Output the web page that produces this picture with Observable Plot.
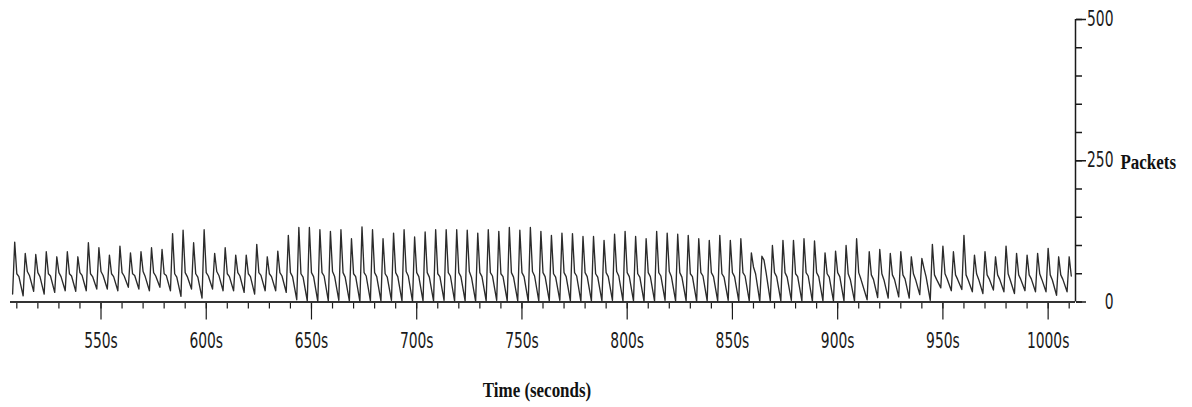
<!DOCTYPE html>
<html><head><meta charset="utf-8">
<script src="https://cdn.jsdelivr.net/npm/d3@7"></script>
<script src="https://cdn.jsdelivr.net/npm/@observablehq/plot@0.6"></script>
<style>
html,body{margin:0;padding:0;background:#fff;}
#chart svg{display:block;}
</style></head><body><div id="chart"></div>
<script>
// Packet counts, one cycle per ~5 seconds: peak, plateau, shoulder, trough
const startTime = 508;
const startValue = 14;
const firstPeakTime = 509;
const cycleSeconds = 5;
const longCycles = [80];          // cycle index that lasted 6 s
const endPlateau = 46;

const peaks = [
  106,86,84,89,80,89,80,105,96,83,
  99,87,89,96,93,121,127,105,128,86,
  96,83,83,102,80,90,
  118,132,132,128,125,128,112,133,128,112,
  122,128,115,124,128,128,128,127,122,128,
  125,132,127,132,125,118,122,121,
  116,116,109,120,125,116,112,125,122,120,
  118,112,109,118,109,112,87,81,100,109,
  109,112,108,87,90,100,112,
  89,93,86,89,80,77,102,99,89,118,
  83,89,80,99,86,83,86,95,80,80
];
const plateaus = [
  50,54,52,50,52,50,52,50,54,50, 52,50,54,52,50,50,52,50,52,54, 50,52,50,52,50,52,
  52,50,52,52,54,52,50,52,52,50, 52,54,52,52,50,52,52,54,52,52, 50,52,52,54,52,50,52,52,
  52,50,52,54,52,50,52,52,54,52, 50,52,52,50,52,52,62,74,52,52, 50,52,52,50,52,50,52,
  48,50,48,48,50,60,48,50,48,48, 50,48,48,50,48,48,50,48,48,endPlateau
];
const shoulders = [
  45,47,45,46,45,46,47,45,47,45, 46,47,45,46,47,44,45,44,46,47, 45,46,45,47,45,46,
  45,44,45,46,45,44,45,46,45,44, 45,46,45,44,45,46,45,44,45,46, 45,44,45,46,45,44,45,46,45,44,
  45,46,45,44,45,46,45,44,45,46, 45,44,45,46,50,52,45,44,45,46, 45,44,45,
  40,41,40,39,40,41,40,45,40,41, 40,39,40,41,40,39,40,41,40,39, 40
];
const troughs = [
  11,19,14,17,20,19,20,23,23,20, 26,23,20,26,20,10,23,7,23,20, 20,17,14,20,20,17,
  4,
  2,1,2,3,2,1,2,2,3,2, 1,2,2,3,2,2,1,2,3,2, 2,1,2,2,3,2,1,2,2,3, 2,2,1,2,3,2,2,1,2,2, 3,2,2,1,2,2,3,2,1,2, 2,2,
  2,4,8,7,9,7,13,3,25,20, 22,18,15,21,18,15,20,18,18,12, 18
];

const xMinorTicks = d3.range(510, 1011, 10);
const xMajorTicks = [550,600,650,700,750,800,850,900,950,1000];
const yMinorTicks = d3.range(0, 501, 50);
const yMajorTicks = [0,250,500];

const series = [{t: startTime, v: startValue}];
let t = firstPeakTime;
for (let i = 0; i < peaks.length; i++) {
  series.push({t, v: peaks[i]});
  series.push({t: t + 1, v: plateaus[i]});
  if (i < troughs.length) {
    const len = cycleSeconds + (longCycles.includes(i) ? 1 : 0);
    series.push({t: t + 2, v: shoulders[i]});
    series.push({t: t + len - 1, v: troughs[i]});
    t += len;
  }
}

const serif = "'Liberation Serif', 'Times New Roman', serif";
const chart = Plot.plot({
  width: 1192, height: 407,
  marginLeft: 10, marginRight: 117, marginTop: 19, marginBottom: 105.5,
  x: {domain: [507, 1013], label: null},
  y: {domain: [0, 500], label: null},
  style: {fontFamily: "'DejaVu Sans', sans-serif", fontSize: "21px", color: "#1a1a1a", background: "#fff"},
  marks: [
    Plot.axisX({ticks: xMinorTicks, tickSize: 7, tickFormat: () => "", label: null, strokeWidth: 1.2}),
    Plot.axisX({ticks: xMajorTicks, tickSize: 18, tickPadding: 13, tickFormat: d => d + "s", label: null, strokeWidth: 1.2}),
    Plot.axisY({anchor: "right", ticks: yMinorTicks, tickSize: 6, tickFormat: () => "", label: null, strokeWidth: 1.5}),
    Plot.axisY({anchor: "right", ticks: yMajorTicks, tickSize: 10, tickPadding: 28, textAnchor: "end", label: null, strokeWidth: 1.5}),
    Plot.ruleY([0], {stroke: "#333", strokeWidth: 2}),
    Plot.ruleX([1013], {stroke: "#1a1a1a", strokeWidth: 1.5}),
    Plot.lineY(series, {x: "t", y: "v", stroke: "#2b2b2b", strokeWidth: 1.35}),
    Plot.text(["Time (seconds)"], {text: d => d, frameAnchor: "bottom", dx: -6, dy: 95, fontFamily: serif, fontWeight: "bold", fontSize: 22, fill: "#111"}),
    Plot.text(["Packets"], {text: d => d, frameAnchor: "right", dx: 45, dy: 1, textAnchor: "start", fontFamily: serif, fontWeight: "bold", fontSize: 22, fill: "#111"})
  ]
});
document.getElementById("chart").append(chart);

// horizontally condensed lettering, as in the reference
chart.querySelectorAll("text").forEach(el => {
  const fam = (el.getAttribute("font-family") || (el.parentNode && el.parentNode.getAttribute("font-family")) || "");
  const s = fam.includes("Serif") ? 0.77 : 0.66;
  const x = parseFloat(el.getAttribute("x")) || 0;
  const y = parseFloat(el.getAttribute("y")) || 0;
  const tr = el.getAttribute("transform") || "";
  el.setAttribute("transform", `${tr} translate(${x},${y}) scale(${s},1) translate(${-x},${-y})`);
});
</script>
</body></html>
